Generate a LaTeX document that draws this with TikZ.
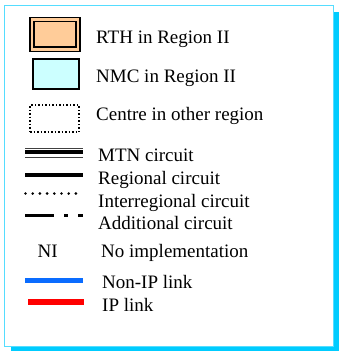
\documentclass[tikz,border=0pt]{standalone}
\usepackage{fontspec}
\setmainfont{Liberation Serif}
\definecolor{shadowcyan}{HTML}{00CCFF}
\definecolor{framecyan}{HTML}{55DDFF}
\definecolor{rthfill}{HTML}{FFCC99}
\definecolor{nmcfill}{HTML}{CCFFFF}
\definecolor{linkblue}{HTML}{0A6CFF}
\definecolor{linkred}{HTML}{FF0000}
\tikzset{
  lbl/.style={anchor=base west, inner sep=0pt, font=\fontsize{19}{22}\selectfont},
  keybox/.style={draw=black, line width=1.4pt},
}
\begin{document}
\begin{tikzpicture}[x=1pt, y=-1pt]
  \useasboundingbox (0,0) rectangle (339,351);
  % shadow and frame
  \fill[shadowcyan] (11,12) rectangle (339,351);
  \draw[framecyan, fill=white, line width=1pt] (4.5,5.3) rectangle (333,346.5);

  % RTH: double-bordered box
  \node[keybox, fill=rthfill, minimum width=50pt, minimum height=34pt, inner sep=0pt] (rth) at (55,34.2) {};
  \node[draw=black, line width=1.6pt, minimum width=41.5pt, minimum height=25.5pt, inner sep=0pt] (rthin) at (rth.center) {};
  \node[lbl] (rthtxt) at (96,43) {RTH in Region II};

  % NMC box
  \node[keybox, fill=nmcfill, minimum width=46pt, minimum height=30pt, inner sep=0pt] (nmc) at (56,74) {};
  \node[lbl] (nmctxt) at (96,82.5) {NMC in Region II};

  % centre in other region
  \node[draw=black, dotted, line width=1.5pt, minimum width=49pt, minimum height=27pt, inner sep=0pt] (other) at (54.5,118.5) {};
  \node[lbl] (othertxt) at (96,120) {Centre in other region};

  % MTN circuit
  \coordinate (mtnA) at (25,152);
  \coordinate (mtnB) at (83,152);
  \draw[black!75, line width=0.9pt] ([yshift=-5pt]mtnA) -- ([yshift=-5pt]mtnB);
  \draw[black, line width=4pt] (mtnA) -- (mtnB);
  \draw[black!75, line width=0.9pt] ([yshift=4pt]mtnA) -- ([yshift=4pt]mtnB);
  \node[lbl] (mtntxt) at (98,161) {MTN circuit};

  % regional circuit
  \coordinate (regA) at (25,175);
  \coordinate (regB) at (83,175);
  \draw[black, line width=3.6pt] (regA) -- (regB);
  \node[lbl] (regtxt) at (98,184) {Regional circuit};

  % interregional circuit
  \coordinate (intA) at (25.5,193.5);
  \coordinate (intB) at (83,193.5);
  \draw[black, line width=2.9pt, line cap=round, dash pattern=on 0pt off 7.2pt] (intA) -- (intB);
  \node[lbl] (inttxt) at (98,207) {Interregional circuit};

  % additional circuit
  \coordinate (addA) at (25,215.5);
  \coordinate (addB) at (83,215.5);
  \draw[black, line width=3.2pt, dash pattern=on 28.5pt off 10.5pt on 4pt off 10pt on 5pt] (addA) -- (addB);
  \node[lbl] (addtxt) at (98,229) {Additional circuit};

  % no implementation
  \node[lbl] (ni) at (37.5,257) {NI};
  \node[lbl] (nitxt) at (101,257) {No implementation};

  % links
  \coordinate (blueA) at (25,280.5);
  \coordinate (blueB) at (83,280.5);
  \draw[linkblue, line width=5pt] (blueA) -- (blueB);
  \node[lbl] (bluetxt) at (102,288) {Non-IP link};

  \coordinate (redA) at (28,302);
  \coordinate (redB) at (84,302);
  \draw[linkred, line width=5.5pt] (redA) -- (redB);
  \node[lbl] (redtxt) at (102,311) {IP link};
\end{tikzpicture}
\end{document}
